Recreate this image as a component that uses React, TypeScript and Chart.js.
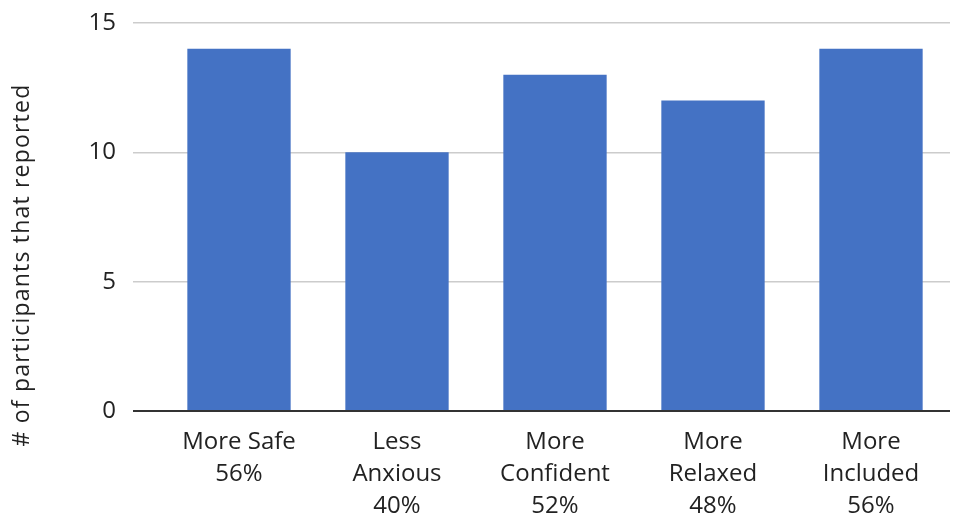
import React, { useEffect, useRef } from "react";
import { Chart, registerables } from "chart.js";

Chart.register(...registerables);

const categories: string[][] = [
  ["More Safe", "56%"],
  ["Less", "Anxious", "40%"],
  ["More", "Confident", "52%"],
  ["More", "Relaxed", "48%"],
  ["More", "Included", "56%"],
];
const values: number[] = [14, 10, 13, 12, 14];
const yTitle = "# of participants that reported";
const FONT = "'Open Sans', sans-serif";

const yTitlePlugin = {
  id: "yTitlePlugin",
  afterDraw(chart: any) {
    const ctx = chart.ctx;
    ctx.save();
    ctx.translate(22, 265);
    ctx.rotate(-Math.PI / 2);
    ctx.font = `23px ${FONT}`;
    try {
      (ctx as any).letterSpacing = "1.2px";
    } catch (e) {}
    ctx.fillStyle = "#222";
    ctx.textAlign = "center";
    ctx.textBaseline = "middle";
    ctx.fillText(yTitle, 0, 0);
    ctx.restore();
  },
};

export default function App() {
  const ref = useRef<HTMLCanvasElement | null>(null);
  useEffect(() => {
    document.body.style.margin = "0";
    if (!ref.current) return;
    const chart = new Chart(ref.current, {
      type: "bar",
      data: {
        labels: categories,
        datasets: [
          {
            data: values,
            backgroundColor: "#4472C4",
            borderWidth: 0,
            categoryPercentage: 1,
            barPercentage: 0.654,
          },
        ],
      },
      options: {
        animation: false,
        responsive: false,
        maintainAspectRatio: false,
        layout: { padding: { top: 23, right: 16, left: 0, bottom: 0 } },
        plugins: {
          legend: { display: false },
          tooltip: { enabled: false },
        },
        scales: {
          x: {
            grid: { display: false },
            border: { display: false },
            ticks: {
              color: "#222",
              font: { family: FONT, size: 24, lineHeight: 1.33 },
              padding: 7,
              maxRotation: 0,
              autoSkip: false,
            },
            afterFit: (scale: any) => {
              scale.height = 103;
              scale.paddingTop = 0;
              scale.paddingBottom = 0;
            },
          },
          y: {
            min: 0,
            max: 15,
            ticks: {
              stepSize: 5,
              color: "#222",
              font: { family: FONT, size: 24 },
              padding: 17,
            },
            grid: {
              color: (c: any) => (c.tick && c.tick.value === 0 ? "#333" : "#ccc"),
              lineWidth: (c: any) => (c.tick && c.tick.value === 0 ? 2 : 1.5),
              tickLength: 27,
              drawTicks: true,
            },
            border: { display: false },
            afterFit: (scale: any) => {
              scale.width = 160;
              scale.paddingTop = 0;
              scale.paddingBottom = 0;
            },
          },
        },
      },
      plugins: [yTitlePlugin],
    });
    return () => chart.destroy();
  }, []);
  return <canvas ref={ref} width={966} height={514} style={{ display: "block" }} />;
}
